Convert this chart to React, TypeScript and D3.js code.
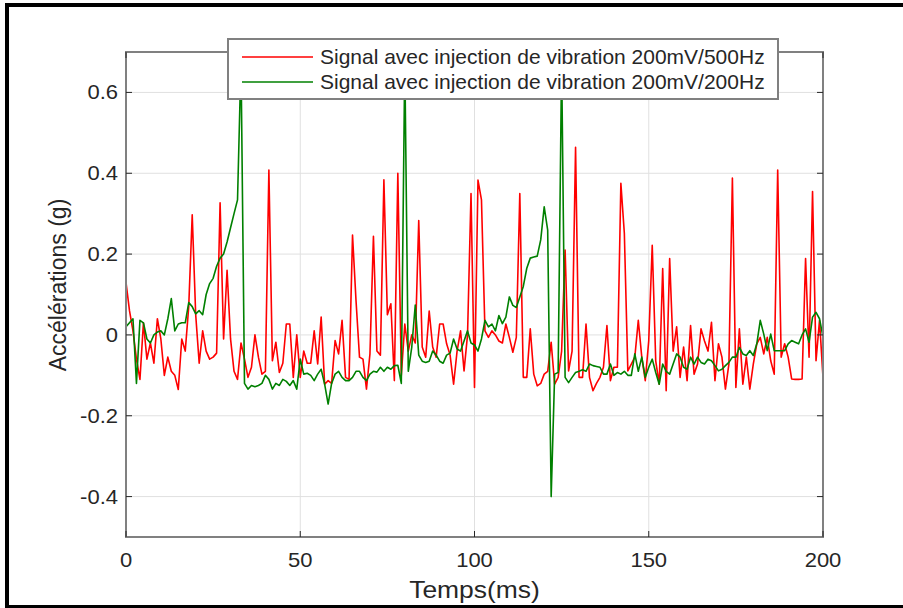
import React from "react";
import * as d3 from "d3";

// time axis (ms), one sample per ms
const TIME_MS: number[] = d3.range(0, 201);

const RED_500HZ: number[] = [
  0.13, 0.06, 0.01, -0.06, -0.11, 0.03, -0.06, -0.02, -0.07, 0.04,
  -0.01, -0.1, -0.055, -0.09, -0.1, -0.135, -0.01, -0.04, 0.07, 0.297,
  0.05, -0.07, 0.01, -0.04, -0.06, -0.055, -0.045, 0.327, -0.01, 0.16,
  -0.01, -0.09, -0.11, -0.02, -0.06, -0.105, -0.08, 0.0, -0.055, -0.097,
  -0.09, 0.408, -0.064, -0.018, -0.093, -0.07, 0.027, 0.027, -0.105, 0.0,
  -0.105, -0.04, -0.07, -0.07, 0.01, -0.072, 0.044, -0.122, -0.113, -0.12,
  -0.014, -0.047, 0.036, -0.105, -0.11, 0.247, 0.085, -0.055, -0.06, -0.134,
  -0.047, 0.244, -0.04, -0.05, 0.384, 0.05, 0.077, -0.113, 0.4, -0.1,
  0.027, -0.04, 0.0, -0.02, 0.283, -0.03, -0.055, 0.059, -0.03, -0.055,
  0.027, 0.027, -0.022, -0.05, -0.122, -0.04, 0.01, -0.089, 0.0, 0.35,
  -0.13, 0.383, 0.334, 0.01, -0.006, 0.01, 0.0, -0.015, -0.02, 0.027,
  -0.006, -0.043, -0.006, 0.35, -0.105, -0.105, 0.015, -0.097, -0.126, -0.12,
  -0.097, -0.09, -0.018, -0.122, -0.105, -0.04, 0.21, -0.089, -0.04, 0.464,
  -0.105, -0.105, 0.027, -0.105, -0.138, -0.12, -0.105, -0.08, 0.023, -0.113,
  -0.08, -0.08, 0.375, 0.251, -0.089, -0.072, -0.055, 0.036, -0.055, -0.113,
  -0.014, 0.222, -0.064, -0.122, 0.164, -0.138, 0.189, -0.04, 0.02, -0.105,
  -0.03, -0.113, 0.023, -0.097, -0.072, 0.015, -0.015, -0.04, 0.031, -0.113,
  -0.022, -0.055, -0.134, -0.072, 0.388, -0.13, 0.015, -0.122, -0.055, -0.134,
  -0.072, -0.022, -0.006, -0.047, -0.006, -0.064, -0.097, 0.408, -0.055, -0.022,
  -0.055, -0.109, -0.11, -0.11, -0.109, 0.189, -0.055, 0.355, -0.064, 0.036,
  -0.105,
];

const GREEN_200HZ: number[] = [
  0.02, 0.03, 0.04, -0.12, 0.036, 0.03, -0.01, -0.02, 0.0, 0.007,
  0.01, 0.0, 0.04, 0.09, 0.01, 0.027, 0.03, 0.03, 0.08, 0.07,
  0.052, 0.06, 0.05, 0.1, 0.127, 0.14, 0.17, 0.19, 0.2, 0.23,
  0.265, 0.3, 0.334, 0.68, -0.12, -0.134, -0.125, -0.128, -0.125, -0.12,
  -0.1, -0.11, -0.134, -0.12, -0.125, -0.11, -0.115, -0.125, -0.113, -0.134,
  -0.06, -0.097, -0.095, -0.1, -0.113, -0.097, -0.085, -0.122, -0.171, -0.12,
  -0.097, -0.09, -0.105, -0.113, -0.113, -0.105, -0.09, -0.09, -0.105, -0.113,
  -0.097, -0.09, -0.092, -0.08, -0.09, -0.08, -0.085, -0.076, -0.075, -0.12,
  0.68, -0.09, -0.03, 0.074, -0.05, -0.065, -0.068, -0.065, -0.04, -0.05,
  -0.065, -0.07, -0.05, -0.045, -0.01, -0.035, -0.04, -0.015, 0.01, -0.02,
  -0.025, -0.04, -0.01, 0.036, 0.02, 0.027, 0.01, 0.048, 0.028, 0.044,
  0.094, 0.073, 0.068, 0.094, 0.12, 0.165, 0.19, 0.193, 0.195, 0.235,
  0.317, 0.259, -0.4, -0.097, -0.093, 0.68, -0.105, -0.118, -0.105, -0.093,
  -0.09, -0.086, -0.09, -0.072, -0.076, -0.078, -0.08, -0.097, -0.097, -0.072,
  -0.1, -0.093, -0.097, -0.09, -0.1, -0.1, -0.047, -0.09, -0.055, -0.105,
  -0.08, -0.06, -0.093, -0.122, -0.072, -0.09, -0.097, -0.072, -0.047, -0.055,
  -0.08, -0.085, -0.055, -0.072, -0.055, -0.068, -0.072, -0.06, -0.064, -0.076,
  -0.089, -0.085, -0.076, -0.068, -0.055, -0.055, -0.031, -0.047, -0.051, -0.039,
  -0.051, -0.022, 0.036, 0.002, -0.039, 0.002, -0.039, -0.039, -0.039, -0.039,
  -0.022, -0.014, -0.018, -0.022, 0.0, 0.015, -0.018, 0.044, 0.056, 0.04,
  -0.005,
];

const X_TICKS: number[] = [0, 50, 100, 150, 200];
const Y_TICKS: number[] = [-0.4, -0.2, 0, 0.2, 0.4, 0.6];
const X_TICK_LABELS: string[] = ["0", "50", "100", "150", "200"];
const Y_TICK_LABELS: string[] = ["-0.4", "-0.2", "0", "0.2", "0.4", "0.6"];
const X_DOMAIN: [number, number] = [0, 200];
const Y_DOMAIN: [number, number] = [-0.5, 0.7];

const SERIES_NAMES: string[] = [
  "Signal avec injection de vibration 200mV/500Hz",
  "Signal avec injection de vibration 200mV/200Hz",
];
const SERIES_COLORS: string[] = ["#ff0000", "#008000"];

const X_LABEL = "Temps(ms)";
const Y_LABEL = "Accélérations (g)";

export default function App() {
  const W = 903;
  const H = 608;
  const left = 126;
  const right = 823;
  const top = 52;
  const bottom = 537;

  const x = d3.scaleLinear().domain(X_DOMAIN).range([left, right]);
  const y = d3.scaleLinear().domain(Y_DOMAIN).range([bottom, top]);

  const line = d3
    .line<number>()
    .x((_, i) => x(TIME_MS[i]))
    .y((d) => y(d));

  const seriesData = [RED_500HZ, GREEN_200HZ];
  const font = "'Liberation Sans', Arial, Helvetica, sans-serif";
  const textColor = "#262626";
  const axisColor = "#808080";
  const gridColor = "#e0e0e0";
  const tickLen = 6;

  return (
    <svg
      width={W}
      height={H}
      style={{ position: "absolute", left: 0, top: 0, background: "#fff" }}
      fontFamily={font}
    >
      <rect x={0} y={0} width={W} height={H} fill="#fff" />
      <defs>
        <clipPath id="plotclip">
          <rect x={left} y={top} width={right - left} height={bottom - top} />
        </clipPath>
      </defs>

      {/* grid */}
      {X_TICKS.map((t) => (
        <line key={"gx" + t} x1={x(t)} x2={x(t)} y1={top} y2={bottom} stroke={gridColor} strokeWidth={1} />
      ))}
      {Y_TICKS.map((t) => (
        <line key={"gy" + t} x1={left} x2={right} y1={y(t)} y2={y(t)} stroke={gridColor} strokeWidth={1} />
      ))}

      {/* series */}
      <g clipPath="url(#plotclip)">
        {seriesData.map((s, i) => (
          <path
            key={"s" + i}
            d={line(s) || ""}
            fill="none"
            stroke={SERIES_COLORS[i]}
            strokeWidth={1.6}
            strokeLinejoin="round"
          />
        ))}
      </g>

      {/* axes box */}
      <rect x={left} y={top} width={right - left} height={bottom - top} fill="none" stroke={axisColor} strokeWidth={2} />

      {/* ticks */}
      {X_TICKS.map((t, i) => (
        <g key={"tx" + t}>
          <line x1={x(t)} x2={x(t)} y1={bottom} y2={bottom - tickLen} stroke={textColor} strokeWidth={1} />
          <line x1={x(t)} x2={x(t)} y1={top} y2={top + tickLen} stroke={textColor} strokeWidth={1} />
          <g transform={`translate(${x(t)}, 567) scale(1.1, 1)`}>
            <text x={0} y={0} textAnchor="middle" fontSize={20} fill={textColor}>
              {X_TICK_LABELS[i]}
            </text>
          </g>
        </g>
      ))}
      {Y_TICKS.map((t, i) => (
        <g key={"ty" + t}>
          <line x1={left} x2={left + tickLen} y1={y(t)} y2={y(t)} stroke={textColor} strokeWidth={1} />
          <line x1={right} x2={right - tickLen} y1={y(t)} y2={y(t)} stroke={textColor} strokeWidth={1} />
          <g transform={`translate(118, ${y(t)}) scale(1.1, 1)`}>
            <text x={0} y={0} dy="0.35em" textAnchor="end" fontSize={20} fill={textColor}>
              {Y_TICK_LABELS[i]}
            </text>
          </g>
        </g>
      ))}

      {/* axis labels */}
      <g transform={`translate(${(left + right) / 2}, 598) scale(1.15, 1)`}>
        <text x={0} y={0} textAnchor="middle" fontSize={23} fill={textColor}>
          {X_LABEL}
        </text>
      </g>
      <text
        transform={`translate(66, 285) rotate(-90)`}
        textAnchor="middle"
        fontSize={23}
        fill={textColor}
      >
        {Y_LABEL}
      </text>

      {/* legend */}
      <rect x={228} y={39} width={550} height={60} fill="#fff" stroke={axisColor} strokeWidth={2} />
      {SERIES_NAMES.map((name, i) => (
        <g key={"lg" + i}>
          <line x1={242} x2={313} y1={57 + i * 25} y2={57 + i * 25} stroke={SERIES_COLORS[i]} strokeWidth={1.6} />
          <g transform={`translate(320, ${64 + i * 25}) scale(1.05, 1)`}>
            <text x={0} y={0} fontSize={20} fill={textColor}>
              {name}
            </text>
          </g>
        </g>
      ))}

      {/* outer frame */}
      <rect x={7} y={5} width={W + 10} height={H - 6} fill="none" stroke="#000" strokeWidth={4} />
    </svg>
  );
}
